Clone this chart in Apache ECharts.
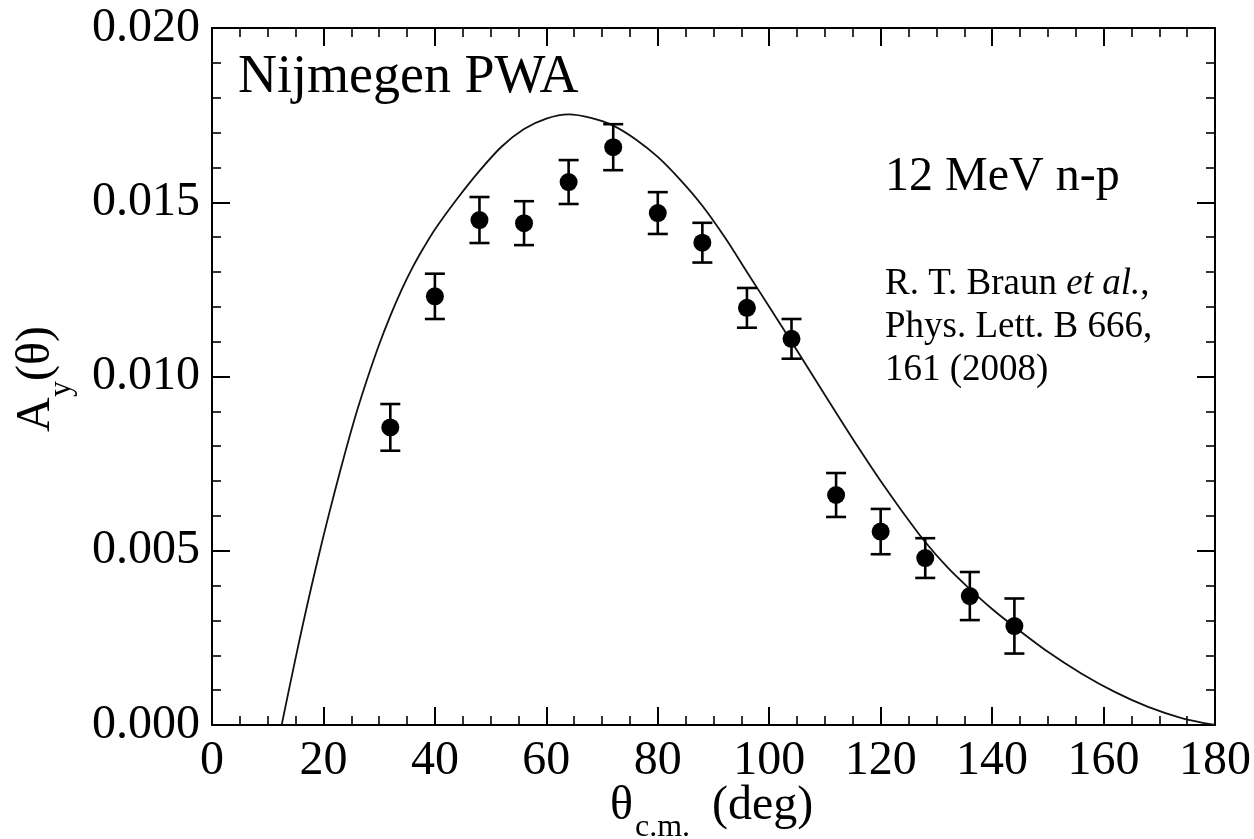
<!DOCTYPE html>
<html>
<head>
<meta charset="utf-8">
<script src="https://cdn.jsdelivr.net/npm/echarts@6.0.0/dist/echarts.min.js"></script>
<style>
  html, body { margin: 0; padding: 0; background: #fff; }
  #chart { width: 1254px; height: 839px; }
</style>
</head>
<body>
<div id="chart"></div>
<script>
// measured points (Braun et al.)
const thetaData = [32, 40, 48, 56, 64, 72, 80, 88, 96, 104, 112, 120, 128, 136, 144];
const ayData = [0.00854, 0.01230, 0.01449, 0.01440, 0.01558, 0.01658, 0.01469, 0.01384,
  0.01197, 0.01108, 0.00660, 0.00555, 0.00479, 0.00370, 0.00284];
const ayError = [0.00067, 0.00065, 0.00066, 0.00063, 0.00063, 0.00066, 0.00060, 0.00057,
  0.00057, 0.00057, 0.00063, 0.00065, 0.00057, 0.00069, 0.00079];

// Nijmegen PWA curve
const curveTheta = [12.5, 14, 16, 18, 20, 22, 24, 26, 28, 30, 32, 34, 36, 38, 40, 44, 48, 52, 56, 60,
  64, 68, 72, 76, 80, 84, 88, 92, 96, 100, 104, 108, 112, 116, 120, 124, 128, 132, 136, 140, 144,
  150, 156, 162, 168, 174, 180];
const curveAy = [0, 0.00116, 0.00266, 0.00408, 0.00542, 0.00668, 0.00788, 0.0090, 0.0100, 0.01092,
  0.01174, 0.01248, 0.01313, 0.0137, 0.01422, 0.0151, 0.0159, 0.0166, 0.0171, 0.0174,
  0.01752, 0.01742, 0.0172, 0.01681, 0.0163, 0.01565, 0.0149, 0.0140, 0.0130, 0.0120, 0.0110,
  0.00998, 0.00896, 0.00796, 0.0070, 0.0061, 0.00525, 0.00452, 0.0039, 0.00333, 0.00282,
  0.0021, 0.00148, 0.00095, 0.00052, 0.0002, 0];

const xTicks = [0, 180, 20];
const yTicks = [0, 0.02, 0.005];

const FONT = '"Liberation Serif", "Times New Roman", serif';
const chart = echarts.init(document.getElementById('chart'));

const tickStyle = { inside: true, length: 18, lineStyle: { color: '#000', width: 2 } };
const minorStyle = { show: true, splitNumber: 4, length: 9, lineStyle: { color: '#000', width: 1.6 } };
const lineStyle = { show: true, onZero: false, lineStyle: { color: '#000', width: 2 } };
const labelStyle = { color: '#000', fontFamily: FONT, fontSize: 48 };

const xBase = {
  type: 'value', min: xTicks[0], max: xTicks[1], interval: xTicks[2],
  axisLine: lineStyle, axisTick: tickStyle,
  minorTick: minorStyle, splitLine: { show: false }
};
const yBase = {
  type: 'value', min: yTicks[0], max: yTicks[1], interval: yTicks[2],
  axisLine: lineStyle, axisTick: tickStyle,
  minorTick: Object.assign({}, minorStyle, { splitNumber: 5 }), splitLine: { show: false }
};

function txt(text, x, y, size, extra) {
  return Object.assign({
    type: 'text', x: x, y: y,
    style: { text: text, x: 0, y: 0, font: size + 'px ' + FONT, fill: '#000', textAlign: 'left', textVerticalAlign: 'middle' }
  }, extra || {});
}
const rot = { rotation: Math.PI / 2 };

const option = {
  animation: false,
  backgroundColor: '#fff',
  grid: { left: 212, right: 39, top: 28, bottom: 114, outerBoundsMode: 'none' },
  xAxis: [
    Object.assign({}, xBase, { position: 'bottom', axisLabel: Object.assign({}, labelStyle, { margin: 12 }) }),
    Object.assign({}, xBase, { position: 'top', axisLabel: { show: false } })
  ],
  yAxis: [
    Object.assign({}, yBase, {
      position: 'left',
      axisLabel: Object.assign({}, labelStyle, { margin: 12, formatter: v => v.toFixed(3) })
    }),
    Object.assign({}, yBase, { position: 'right', axisLabel: { show: false } })
  ],
  graphic: [
    // axis titles
    txt('θ', 610, 806, 48),
    txt('c.m.', 635, 828, 32),
    txt('(deg)', 712, 806, 48),
    txt('A', 36, 432, 48, rot),
    txt('y', 62, 397, 32, rot),
    txt('(θ)', 36, 381, 48, rot),
    // annotations
    txt('Nijmegen PWA', 238, 78, 54),
    txt('12 MeV n-p', 885, 177, 48),
    {
      type: 'text', left: 885, top: 266,
      style: {
        text: '{n|R. T. Braun }{i|et al.}{n|,}\n{n|Phys. Lett. B 666,}\n{n|161 (2008)}',
        rich: {
          n: { fontFamily: FONT, fontSize: 37, lineHeight: 43, fill: '#000' },
          i: { fontFamily: FONT, fontSize: 37, lineHeight: 43, fontStyle: 'italic', fill: '#000' }
        }
      }
    }
  ],
  series: [
    {
      type: 'line',
      data: curveTheta.map((t, i) => [t, curveAy[i]]),
      smooth: 0.3,
      showSymbol: false,
      clip: true,
      lineStyle: { color: '#111', width: 1.8 },
      z: 2
    },
    {
      type: 'custom',
      data: thetaData.map((t, i) => [t, ayData[i] - ayError[i], ayData[i] + ayError[i]]),
      renderItem: function (params, api) {
        const lo = api.coord([api.value(0), api.value(1)]);
        const hi = api.coord([api.value(0), api.value(2)]);
        const w = 10;
        const st = { stroke: '#000', lineWidth: 2.6 };
        return {
          type: 'group',
          children: [
            { type: 'line', shape: { x1: lo[0], y1: lo[1], x2: hi[0], y2: hi[1] }, style: st },
            { type: 'line', shape: { x1: lo[0] - w, y1: lo[1], x2: lo[0] + w, y2: lo[1] }, style: st },
            { type: 'line', shape: { x1: hi[0] - w, y1: hi[1], x2: hi[0] + w, y2: hi[1] }, style: st }
          ]
        };
      },
      z: 3
    },
    {
      type: 'scatter',
      data: thetaData.map((t, i) => [t, ayData[i]]),
      symbol: 'circle',
      symbolSize: 18,
      itemStyle: { color: '#000', opacity: 1 },
      z: 4
    }
  ]
};

chart.setOption(option);
</script>
</body>
</html>
